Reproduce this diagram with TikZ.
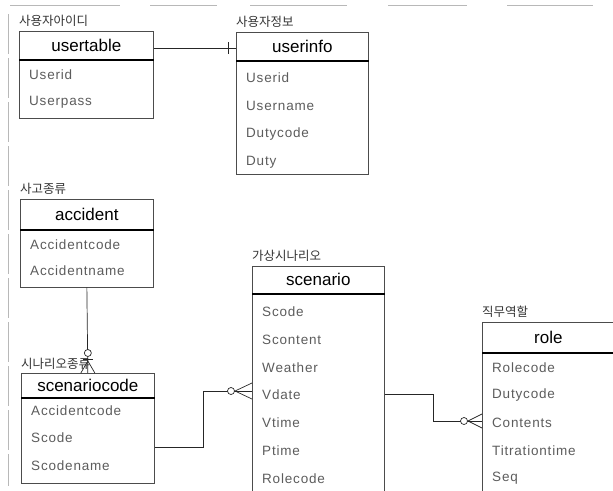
\documentclass[tikz,border=0pt]{standalone}
\usepackage{fontspec}
\setmainfont{Liberation Sans}
\newfontfamily\fieldfont[LetterSpace=6]{Liberation Sans}
\newfontfamily\krfont{Noto Sans CJK KR}
\usetikzlibrary{positioning}

\definecolor{boxgray}{gray}{0.3}
\definecolor{textgray}{gray}{0.36}
\definecolor{scangray}{gray}{0.72}

\tikzset{
  tblhead/.style={draw=boxgray, line width=0.7pt, anchor=north west, inner sep=0pt,
    font=\fontsize{17}{17}\selectfont},
  tblbody/.style={draw=boxgray, line width=0.7pt, anchor=north west, inner sep=0pt},
  field/.style={anchor=west, inner sep=0pt, text=textgray,
    font=\fieldfont\fontsize{13.5}{13.5}\selectfont},
  tbllabel/.style={inner sep=0pt, text=black!80, font=\krfont\fontsize{12.5}{12.5}\selectfont},
  headline/.style={line width=1.6pt, black},
  conn/.style={line width=0.7pt, black!85},
  scanline/.style={scangray, line width=0.8pt}
}

\begin{document}
\begin{tikzpicture}[x=1pt,y=-1pt]
\useasboundingbox (0,0) rectangle (613,490);
\clip (0,0) rectangle (613,490);

% scan edges
\draw[scanline] (10,5) -- (120,5) (150,5) -- (217,5) (250,5) -- (347,5)
  (388,5) -- (467,5) (507,5) -- (593,5);
\draw[scanline, dash pattern=on 40pt off 4pt] (8,14) -- (8,486);

% usertable
\node[tblhead, minimum width=134pt, minimum height=28pt] (usertable) at (19,31) {usertable};
\node[tblbody, minimum width=134pt, minimum height=58pt] (usertableB) at (usertable.south west) {};
\draw[headline] (usertable.south west) -- (usertable.south east);
\node[tbllabel, above right=4pt and 0pt of usertable.north west] (usertableL) {사용자아이디};
\node[field] (usertable1) at (29,75) {Userid};
\node[field] (usertable2) at (29,102) {Userpass};

% userinfo
\node[tblhead, minimum width=132pt, minimum height=28pt] (userinfo) at (236,32) {userinfo};
\node[tblbody, minimum width=132pt, minimum height=113pt] (userinfoB) at (userinfo.south west) {};
\draw[headline] (userinfo.south west) -- (userinfo.south east);
\node[tbllabel, above right=4pt and 0pt of userinfo.north west] (userinfoL) {사용자정보};
\node[field] (userinfo1) at (246,78) {Userid};
\node[field] (userinfo2) at (246,106) {Username};
\node[field] (userinfo3) at (246,134) {Dutycode};
\node[field] (userinfo4) at (246,162) {Duty};

% accident
\node[tblhead, minimum width=133pt, minimum height=30pt] (accident) at (20,199) {accident};
\node[tblbody, minimum width=133pt, minimum height=57pt] (accidentB) at (accident.south west) {};
\draw[headline] (accident.south west) -- (accident.south east);
\node[tbllabel, above right=4pt and 0pt of accident.north west] (accidentL) {사고종류};
\node[field] (accident1) at (30,245) {Accidentcode};
\node[field] (accident2) at (30,271) {Accidentname};

% scenariocode
\node[tblhead, minimum width=133pt, minimum height=24pt] (scodeH) at (21,373) {scenariocode};
\node[tblbody, minimum width=133pt, minimum height=85pt] (scodeB) at (scodeH.south west) {};
\draw[headline] (scodeH.south west) -- (scodeH.south east);
\node[tbllabel, above right=3pt and 0pt of scodeH.north west] (scodeL) {시나리오종류};
\node[field] (scode1) at (31,411) {Accidentcode};
\node[field] (scode2) at (31,438) {Scode};
\node[field] (scode3) at (31,466) {Scodename};

% scenario
\node[tblhead, minimum width=132pt, minimum height=27pt] (scenH) at (252,266) {scenario};
\node[tblbody, minimum width=132pt, minimum height=240pt] (scenB) at (scenH.south west) {};
\draw[headline] (scenH.south west) -- (scenH.south east);
\node[tbllabel, above right=4pt and 0pt of scenH.north west] (scenL) {가상시나리오};
\node[field] (scen1) at (262,312) {Scode};
\node[field] (scen2) at (262,339.7) {Scontent};
\node[field] (scen3) at (262,367.4) {Weather};
\node[field] (scen4) at (262,395) {Vdate};
\node[field] (scen5) at (262,422.8) {Vtime};
\node[field] (scen6) at (262,450.5) {Ptime};
\node[field] (scen7) at (262,478.2) {Rolecode};

% role
\node[tblhead, minimum width=132pt, minimum height=30pt] (role) at (482,322) {role};
\node[tblbody, minimum width=132pt, minimum height=200pt] (roleB) at (role.south west) {};
\draw[headline] (role.south west) -- (role.south east);
\node[tbllabel, above right=4pt and 0pt of role.north west] (roleL) {직무역할};
\node[field] (role1) at (492,368) {Rolecode};
\node[field] (role2) at (492,395.5) {Dutycode};
\node[field] (role3) at (492,423) {Contents};
\node[field] (role4) at (492,450.5) {Titrationtime};
\node[field] (role5) at (492,478) {Seq};

% usertable - userinfo
\draw[conn] ([yshift=-3pt]usertable.east) -- ([yshift=-3pt]usertable.east -| userinfo.west);
\draw[conn] ([xshift=-8pt,yshift=-3pt]usertable.east -| userinfo.west) ++(0,-6) -- ++(0,12);

% accident - scenariocode
\draw[conn] (accidentB.south) -- (scodeH.north);
\draw[conn] (scodeH.north) ++(0,-12) -- ++(-7,12) (scodeH.north) ++(0,-12) -- ++(7,12);
\draw[conn] (scodeH.north) ++(-5,-14) -- ++(10,0);
\draw[conn, fill=white] (scodeH.north) ++(0,-20) circle[radius=3.5pt];

% scenariocode - scenario
\coordinate (bend1) at (203,391);
\draw[conn] (scodeB.east |- 0,447) -| (bend1) -- (scenB.west |- 0,391);
\coordinate (vdend) at (scenB.west |- 0,391);
\draw[conn] (vdend) ++(-17,0) -- ++(17,-8) (vdend) ++(-17,0) -- ++(17,8);
\draw[conn, fill=white] (vdend) ++(-21,0) circle[radius=3.5pt];

% scenario - role
\coordinate (bend2) at (433,421);
\draw[conn] (scenB.east |- 0,394) -| (bend2) -- (roleB.west |- 0,421);
\coordinate (ctend) at (roleB.west |- 0,421);
\draw[conn] (ctend) ++(-14,0) -- ++(14,-7) (ctend) ++(-14,0) -- ++(14,7);
\draw[conn, fill=white] (ctend) ++(-18,0) circle[radius=3.5pt];
\end{tikzpicture}
\end{document}
